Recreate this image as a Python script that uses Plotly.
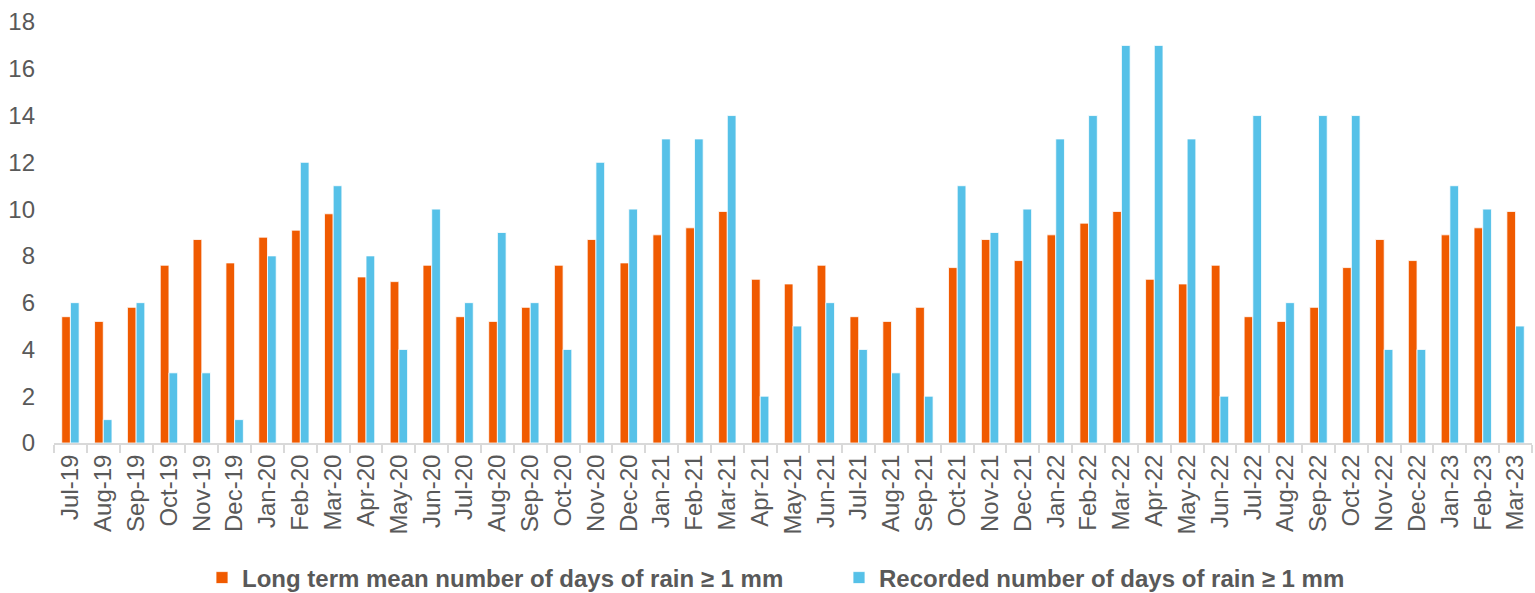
import plotly.graph_objects as go

months = ["Jul-19","Aug-19","Sep-19","Oct-19","Nov-19","Dec-19","Jan-20","Feb-20","Mar-20","Apr-20","May-20","Jun-20",
          "Jul-20","Aug-20","Sep-20","Oct-20","Nov-20","Dec-20","Jan-21","Feb-21","Mar-21","Apr-21","May-21","Jun-21",
          "Jul-21","Aug-21","Sep-21","Oct-21","Nov-21","Dec-21","Jan-22","Feb-22","Mar-22","Apr-22","May-22","Jun-22",
          "Jul-22","Aug-22","Sep-22","Oct-22","Nov-22","Dec-22","Jan-23","Feb-23","Mar-23"]

long_term_mean = [5.4,5.2,5.8,7.6,8.7,7.7,8.8,9.1,9.8,7.1,6.9,7.6,
                  5.4,5.2,5.8,7.6,8.7,7.7,8.9,9.2,9.9,7.0,6.8,7.6,
                  5.4,5.2,5.8,7.5,8.7,7.8,8.9,9.4,9.9,7.0,6.8,7.6,
                  5.4,5.2,5.8,7.5,8.7,7.8,8.9,9.2,9.9]

recorded = [6,1,6,3,3,1,8,12,11,8,4,10,
            6,9,6,4,12,10,13,13,14,2,5,6,
            4,3,2,11,9,10,13,14,17,17,13,2,
            14,6,14,14,4,4,11,10,5]

font_family = "Liberation Sans, Arial, sans-serif"
grey = "#595959"

fig = go.Figure()
fig.add_trace(go.Bar(x=months, y=long_term_mean, name="Long term mean number of days of rain ≥ 1 mm",
                     marker=dict(color="#F05A00", line=dict(color="white", width=0.8))))
fig.add_trace(go.Bar(x=months, y=recorded, name="Recorded number of days of rain ≥ 1 mm",
                     marker=dict(color="#56C1E8", line=dict(color="white", width=0.8))))

fig.update_layout(
    width=1535, height=593,
    margin=dict(l=54, r=3, t=22, b=150, autoexpand=False),
    paper_bgcolor="white", plot_bgcolor="white",
    barmode="group", bargap=0.47, bargroupgap=0.0,
    font=dict(family=font_family, color=grey, size=24),
    legend=dict(orientation="h", xref="container", x=202 / 1535, xanchor="left",
                yref="container", y=(593 - 578) / 593, yanchor="middle",
                font=dict(family=font_family, size=24, color=grey, weight="bold"),
                itemwidth=30, entrywidth=592, traceorder="normal"),
    showlegend=True,
)
fig.update_xaxes(type="category", tickangle=-90, showline=True, linecolor="#D9D9D9", linewidth=2,
                 ticks="outside", tickson="boundaries", ticklen=8, tickcolor="#D9D9D9", tickwidth=2,
                 tickfont=dict(size=24, color=grey), showgrid=False, automargin=False)
fig.update_yaxes(range=[0, 18], dtick=2, showgrid=False, zeroline=False, showline=False,
                 tickfont=dict(size=24, color=grey), ticks="", ticklabelstandoff=18, automargin=False)

fig.write_html("out.html", config={"displayModeBar": False},
               post_script="document.body.style.margin='0';document.body.style.overflow='hidden';")
